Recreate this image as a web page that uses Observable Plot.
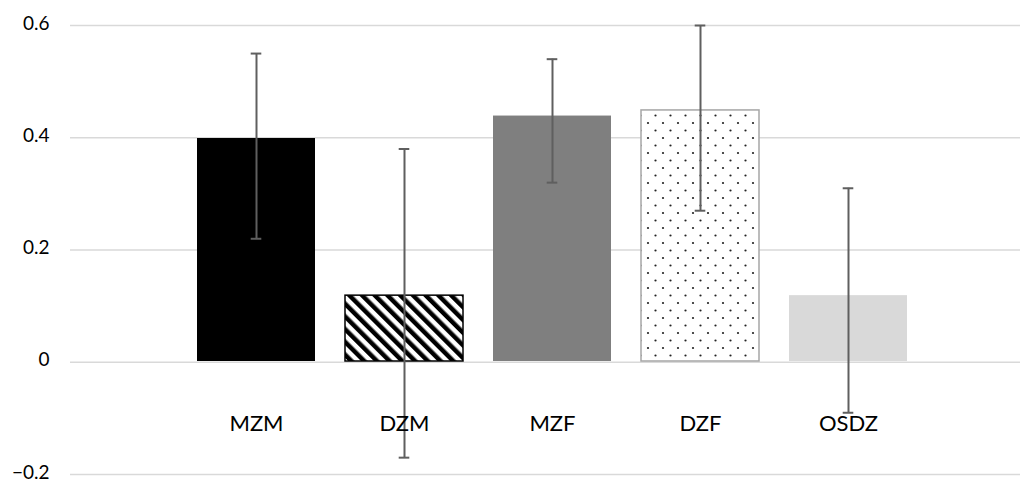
<!DOCTYPE html>
<html>
<head>
<meta charset="utf-8">
<script src="https://cdn.jsdelivr.net/npm/d3@7"></script>
<script src="https://cdn.jsdelivr.net/npm/@observablehq/plot@0.6"></script>
<style>
  html, body { margin: 0; padding: 0; background: #fff; }
  #chart svg { display: block; }
</style>
</head>
<body>
<div id="chart"></div>
<script>
const categories = ["MZM", "DZM", "MZF", "DZF", "OSDZ"];
const values = [0.40, 0.12, 0.44, 0.45, 0.12];
const lower = [0.22, -0.17, 0.32, 0.27, -0.09];
const upper = [0.55, 0.38, 0.54, 0.60, 0.31];
const yTicks = [-0.2, 0, 0.2, 0.4, 0.6];

const fillOf = {MZM: "#000000", DZM: "url(#pat-stripes)", MZF: "#7f7f7f", DZF: "url(#pat-dots)", OSDZ: "#d9d9d9"};
const strokeOf = {MZM: "none", DZM: "#000000", MZF: "none", DZF: "#a6a6a6", OSDZ: "none"};

const data = categories.map((c, i) => ({cat: c, v: values[i], lo: lower[i], hi: upper[i]}));

const font = "Lato, 'Open Sans', sans-serif";

const plot = Plot.plot({
  width: 1020,
  height: 482,
  marginLeft: 70,
  marginRight: 0,
  marginTop: 25,
  marginBottom: 8,
  style: {fontFamily: font, fontSize: "19px", color: "#000", background: "#fff"},
  x: {domain: categories, range: [182, 922], paddingInner: 0.2, paddingOuter: 0.1, axis: null},
  y: {domain: [-0.2, 0.6], label: null},
  color: {type: "identity"},
  marks: [
    Plot.ruleY(yTicks, {stroke: "#d9d9d9", strokeWidth: 1.5}),
    Plot.axisY({ticks: yTicks, tickSize: 0, tickPadding: 21, dy: -2, label: null, fill: "#000",
      tickFormat: d => d === 0 ? "0" : d3.format(".1f")(d).replace("-", "\u2212")}),
    Plot.barY(data, {x: "cat", y: "v", fill: d => fillOf[d.cat], stroke: d => strokeOf[d.cat], strokeWidth: 1.5, insetTop: 0.75, insetBottom: 0.75}),
    Plot.ruleX(data, {x: "cat", y1: "lo", y2: "hi", stroke: "#5f5f5f", strokeWidth: 2}),
    Plot.tickY(data, {x: "cat", y: "lo", stroke: "#5f5f5f", strokeWidth: 2, insetLeft: 53.7, insetRight: 53.7}),
    Plot.tickY(data, {x: "cat", y: "hi", stroke: "#5f5f5f", strokeWidth: 2, insetLeft: 53.7, insetRight: 53.7}),
    Plot.text(data, {x: "cat", y: 0, text: "cat", dy: 62, fill: "#000", fontSize: 22, fontFamily: font})
  ]
});

const svg = d3.select(plot);
const defs = svg.insert("defs", ":first-child");
const st = defs.append("pattern")
  .attr("id", "pat-stripes")
  .attr("patternUnits", "userSpaceOnUse")
  .attr("width", 9).attr("height", 9)
  .attr("patternTransform", "rotate(-45)");
st.append("rect").attr("width", 9).attr("height", 9).attr("fill", "#fff");
st.append("rect").attr("x", 0).attr("y", 0).attr("width", 4.5).attr("height", 9).attr("fill", "#000");

const dt = defs.append("pattern")
  .attr("id", "pat-dots")
  .attr("patternUnits", "userSpaceOnUse")
  .attr("width", 15).attr("height", 15);
dt.append("rect").attr("width", 15).attr("height", 15).attr("fill", "#fff");
dt.append("circle").attr("cx", 3).attr("cy", 3).attr("r", 1.1).attr("fill", "#222");
dt.append("circle").attr("cx", 10.5).attr("cy", 10.5).attr("r", 1.1).attr("fill", "#222");

document.getElementById("chart").appendChild(plot);
</script>
</body>
</html>
